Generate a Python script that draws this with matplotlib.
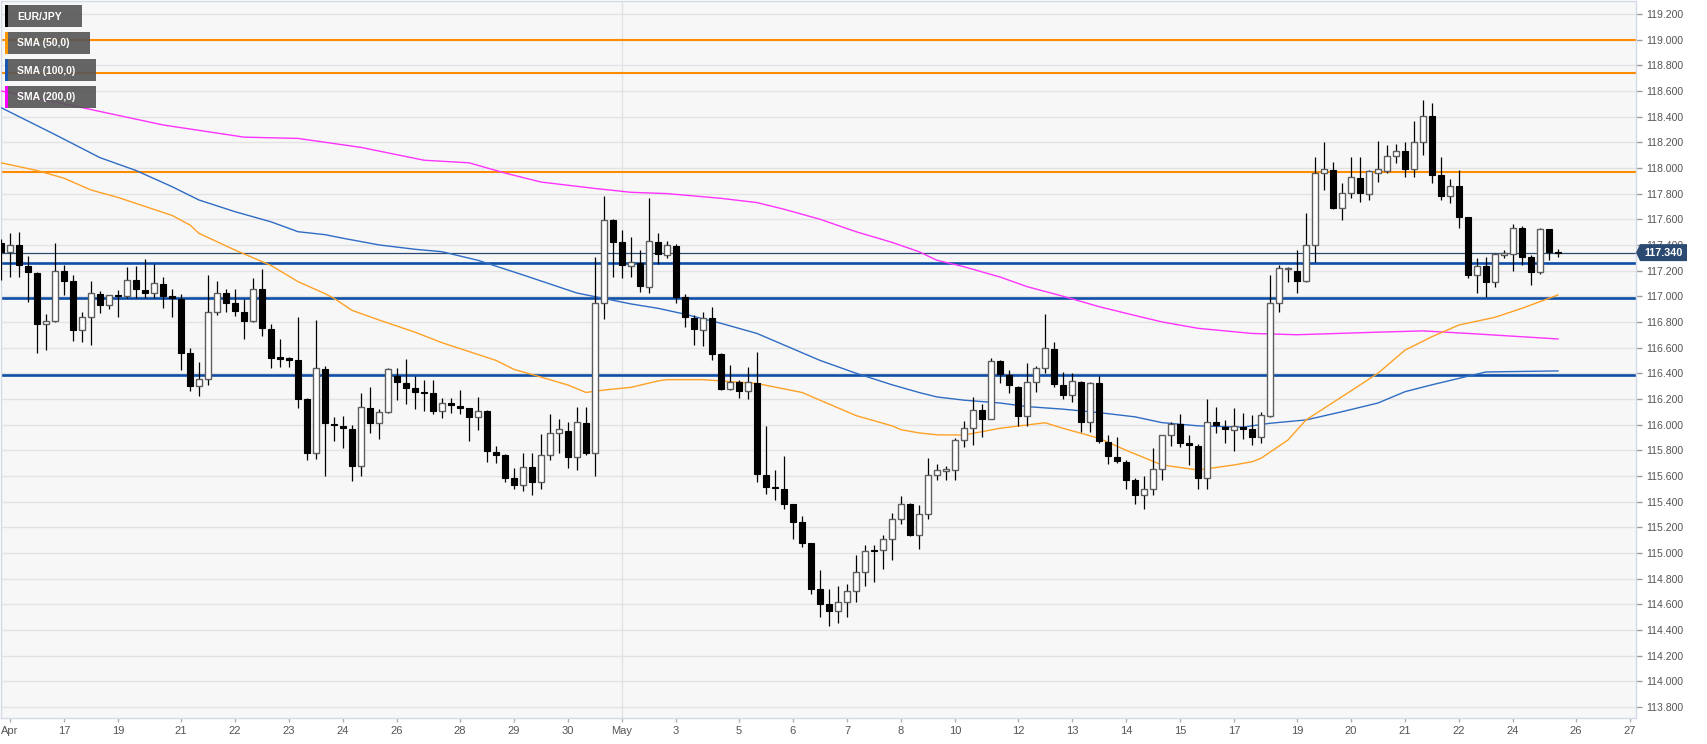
import matplotlib
matplotlib.use("Agg")
import matplotlib.pyplot as plt
from matplotlib.patches import Rectangle, Polygon
import numpy as np

# ---------------- data ----------------
opens = [117.415, 117.348, 117.40, 117.236, 117.184, 116.784, 116.81, 117.2, 117.12, 116.738,
         116.842, 117.02, 116.93, 117.01, 117.0, 117.13, 117.05, 117.025, 117.095, 117.0,
         116.976, 116.56, 116.30, 116.353, 116.88, 117.024, 116.946, 116.88, 116.81, 117.055,
         116.745, 116.525, 116.517, 116.504, 116.20, 115.776, 116.431, 116.005, 115.992, 115.963,
         115.678, 116.127, 116.01, 116.10, 116.379, 116.327, 116.283, 116.25, 116.244, 116.109,
         116.166, 116.145, 116.127, 116.062, 116.106, 115.784, 115.761, 115.58, 115.53, 115.67,
         115.55, 115.763, 115.938, 115.953, 115.745, 116.015, 115.776, 116.945, 117.595, 117.426,
         117.238, 117.257, 117.075, 117.426, 117.322, 117.394, 116.992, 116.833, 116.737, 116.833,
         116.548, 116.275, 116.335, 116.265, 116.322, 115.607, 115.51, 115.495, 115.378, 115.243,
         115.075, 114.72, 114.60, 114.55, 114.62, 114.70, 114.854, 115.023, 115.023, 115.106,
         115.264, 115.381, 115.14, 115.303, 115.607, 115.64, 115.647, 115.881, 115.971, 116.114,
         116.044, 116.499, 116.387, 116.296, 116.068, 116.335, 116.444, 116.59, 116.309, 116.23,
         116.335, 116.023, 116.322, 115.862, 115.75, 115.71, 115.57, 115.45, 115.50, 115.652,
         115.919, 116.005, 115.86, 115.836, 115.58, 116.023, 115.984, 115.958, 115.984, 115.964,
         115.906, 116.067, 116.945, 117.21, 117.2, 117.122, 117.4, 117.964, 117.984, 117.686,
         117.808, 117.925, 117.797, 117.964, 117.979, 118.096, 118.135, 117.99, 118.2, 118.405,
         117.943, 117.782, 117.862, 117.616, 117.166, 117.239, 117.114, 117.322, 117.33, 117.535,
         117.309, 117.187, 117.522, 117.343]
highs = [117.45, 117.49, 117.504, 117.314, 117.19, 116.86, 117.418, 117.245, 117.166, 116.88,
         117.115, 117.04, 117.01, 117.05, 117.225, 117.235, 117.29, 117.25, 117.15, 117.06,
         117.02, 116.595, 116.485, 117.166, 117.115, 117.06, 117.06, 116.98, 117.14, 117.21,
         116.786, 116.67, 116.53, 116.84, 116.21, 116.815, 116.457, 116.057, 116.07, 115.997,
         116.249, 116.296, 116.119, 116.44, 116.439, 116.509, 116.379, 116.348, 116.348, 116.205,
         116.205, 116.27, 116.13, 116.213, 116.11, 115.834, 115.77, 115.66, 115.78, 115.78,
         115.93, 116.083, 116.041, 116.023, 116.14, 116.135, 117.309, 117.781, 117.60, 117.517,
         117.465, 117.36, 117.763, 117.49, 117.43, 117.41, 117.018, 116.854, 116.88, 116.914,
         116.56, 116.465, 116.348, 116.447, 116.569, 115.99, 115.647, 115.756, 115.38, 115.288,
         115.08, 114.87, 114.72, 114.74, 114.76, 114.98, 115.062, 115.062, 115.14, 115.309,
         115.44, 115.385, 115.374, 115.737, 115.693, 115.678, 115.894, 116.031, 116.213, 116.161,
         116.517, 116.5, 116.426, 116.30, 116.478, 116.457, 116.86, 116.642, 116.413, 116.40,
         116.34, 116.33, 116.38, 115.919, 115.906, 115.72, 115.58, 115.60, 115.816, 115.92,
         116.023, 116.083, 115.92, 115.85, 116.197, 116.135, 116.036, 116.127, 116.088, 116.075,
         116.101, 117.166, 117.244, 117.231, 117.361, 117.652, 118.088, 118.2, 118.049, 117.881,
         118.088, 118.083, 117.98, 118.21, 118.179, 118.187, 118.205, 118.369, 118.53, 118.509,
         118.083, 117.914, 117.984, 117.616, 117.296, 117.309, 117.335, 117.361, 117.564, 117.548,
         117.322, 117.53, 117.527, 117.366]
lows = [117.127, 117.15, 117.147, 116.958, 116.556, 116.58, 116.80, 117.01, 116.655, 116.64,
        116.62, 116.87, 116.90, 116.84, 116.99, 116.985, 116.985, 116.985, 116.905, 116.84,
        116.425, 116.265, 116.225, 116.31, 116.855, 116.88, 116.847, 116.665, 116.80, 116.69,
        116.44, 116.45, 116.45, 116.13, 115.72, 115.735, 115.60, 115.873, 115.816, 115.56,
        115.60, 115.938, 115.886, 116.088, 116.192, 116.158, 116.119, 116.109, 116.083, 116.049,
        116.088, 116.083, 115.873, 115.958, 115.711, 115.698, 115.55, 115.50, 115.48, 115.45,
        115.50, 115.725, 115.776, 115.66, 115.647, 115.763, 115.60, 116.821, 117.148, 117.14,
        117.147, 117.036, 117.023, 117.25, 117.296, 116.945, 116.763, 116.62, 116.614, 116.504,
        116.27, 116.27, 116.205, 116.197, 115.555, 115.46, 115.414, 115.34, 115.106, 115.044,
        114.68, 114.50, 114.43, 114.45, 114.50, 114.62, 114.742, 114.776, 114.872, 114.946,
        115.225, 115.135, 115.03, 115.262, 115.568, 115.57, 115.57, 115.823, 115.842, 115.901,
        116.04, 116.322, 116.244, 115.99, 115.99, 116.257, 116.40, 116.296, 116.197, 116.179,
        115.94, 115.945, 115.86, 115.69, 115.70, 115.50, 115.38, 115.34, 115.45, 115.57,
        115.829, 115.823, 115.686, 115.50, 115.50, 115.932, 115.855, 115.795, 115.89, 115.842,
        115.86, 116.057, 116.88, 117.114, 117.029, 117.114, 117.27, 117.829, 117.678, 117.595,
        117.764, 117.738, 117.75, 117.894, 117.964, 118.036, 117.927, 117.927, 118.1, 117.88,
        117.75, 117.73, 117.53, 117.14, 117.029, 116.997, 117.075, 117.296, 117.2, 117.244,
        117.088, 117.174, 117.283, 117.309]
closes = [117.348, 117.400, 117.244, 117.192, 116.784, 116.81, 117.20, 117.12, 116.738, 116.842,
          117.024, 116.93, 117.006, 117.0, 117.13, 117.055, 117.025, 117.10, 117.0, 116.99,
          116.56, 116.30, 116.353, 116.88, 117.024, 116.946, 116.888, 116.81, 117.055, 116.75,
          116.517, 116.51, 116.504, 116.20, 115.776, 116.439, 116.010, 116.0, 115.971, 115.678,
          116.135, 116.010, 116.10, 116.431, 116.335, 116.288, 116.251, 116.248, 116.109, 116.171,
          116.150, 116.127, 116.062, 116.109, 115.790, 115.761, 115.58, 115.53, 115.67, 115.55,
          115.763, 115.938, 115.963, 115.745, 116.018, 115.776, 116.945, 117.595, 117.426, 117.244,
          117.27, 117.08, 117.431, 117.327, 117.397, 116.992, 116.841, 116.742, 116.833, 116.55,
          116.275, 116.335, 116.265, 116.33, 115.615, 115.511, 115.503, 115.38, 115.243, 115.075,
          114.72, 114.60, 114.55, 114.62, 114.70, 114.854, 115.018, 115.015, 115.106, 115.264,
          115.381, 115.14, 115.303, 115.607, 115.646, 115.656, 115.881, 115.971, 116.114, 116.044,
          116.496, 116.395, 116.309, 116.068, 116.335, 116.439, 116.595, 116.317, 116.23, 116.34,
          116.023, 116.327, 115.868, 115.756, 115.719, 115.57, 115.45, 115.50, 115.652, 115.919,
          116.005, 115.86, 115.842, 115.58, 116.023, 115.997, 115.964, 115.99, 115.964, 115.906,
          116.075, 116.945, 117.218, 117.218, 117.122, 117.4, 117.964, 117.99, 117.686, 117.808,
          117.927, 117.803, 117.979, 117.99, 118.096, 118.135, 117.99, 118.2, 118.405, 117.945,
          117.782, 117.862, 117.616, 117.166, 117.239, 117.114, 117.33, 117.34, 117.535, 117.309,
          117.187, 117.522, 117.343, 117.34]

sma50_idx = [0, 4, 7, 10, 13, 16, 19, 21, 22, 26, 30, 33, 36, 37, 39, 42, 46, 49, 55, 57,
             60, 63, 65, 67, 70, 73, 74, 78, 84, 89, 91, 95, 99, 100, 102, 104, 107, 111, 116,
             118, 122, 125, 129, 133, 137, 139, 140, 143, 145, 149, 153, 156, 159, 162, 166,
             169, 173]
sma50_val = [118.04, 117.98, 117.92, 117.828, 117.77, 117.70, 117.63, 117.555, 117.49, 117.36,
             117.24, 117.114, 117.02, 116.984, 116.89, 116.815, 116.72, 116.638, 116.50, 116.43,
             116.37, 116.308, 116.25, 116.269, 116.29, 116.34, 116.35, 116.35, 116.32, 116.25,
             116.19, 116.07, 115.99, 115.96, 115.935, 115.92, 115.918, 115.971, 116.014, 115.971,
             115.893, 115.80, 115.685, 115.646, 115.685, 115.71, 115.737, 115.88, 116.036,
             116.217, 116.40, 116.58, 116.685, 116.776, 116.836, 116.906, 117.01]
sma100_idx = [0, 6, 11, 15, 19, 22, 26, 30, 33, 36, 38, 42, 46, 49, 53, 58, 64, 70, 73, 76,
              80, 84, 87, 91, 95, 99, 102, 104, 107, 111, 114, 118, 122, 126, 129, 133, 138,
              141, 145, 149, 153, 156, 159, 162, 165, 173]
sma100_val = [118.47, 118.26, 118.08, 117.98, 117.854, 117.75, 117.659, 117.58, 117.503,
              117.48, 117.452, 117.40, 117.366, 117.347, 117.28, 117.166, 117.025, 116.94,
              116.906, 116.86, 116.789, 116.71, 116.62, 116.50, 116.40, 116.31, 116.25, 116.215,
              116.19, 116.168, 116.14, 116.12, 116.093, 116.06, 116.015, 115.99, 115.98, 116.01,
              116.036, 116.10, 116.168, 116.256, 116.31, 116.36, 116.41, 116.418]
sma200_idx = [0, 9, 18, 27, 33, 40, 47, 52, 56, 60, 66, 70, 74, 80, 84, 87, 91, 95, 99, 102,
              104, 107, 111, 114, 118, 122, 126, 129, 133, 139, 144, 153, 158, 164, 173]
sma200_val = [118.60, 118.47, 118.335, 118.24, 118.23, 118.16, 118.06, 118.04, 117.96, 117.89,
              117.84, 117.81, 117.80, 117.763, 117.73, 117.678, 117.60, 117.503, 117.42, 117.347,
              117.28, 117.23, 117.15, 117.075, 117.0, 116.919, 116.85, 116.80, 116.75, 116.71,
              116.70, 116.72, 116.73, 116.706, 116.667]

resistance = [119.0, 118.738, 117.971]
support = [117.262, 116.984, 116.389]
last_price = 117.34

tick_idx = [1, 7, 13, 20, 26, 32, 38, 44, 51, 57, 63, 69, 75, 82, 88, 94, 100, 106, 113,
            119, 125, 131, 137, 144, 150, 156, 162, 168, 175, 181]
tick_labels = ["Apr", "17", "19", "21", "22", "23", "24", "26", "28", "29", "30", "May", "3",
               "5", "6", "7", "8", "10", "12", "13", "14", "15", "17", "19", "20", "21", "22",
               "24", "26", "27"]
may_idx = 69
legend_names = ["EUR/JPY", "SMA (50,0)", "SMA (100,0)", "SMA (200,0)"]

# ---------------- figure ----------------
W, H = 1707, 744
fig = plt.figure(figsize=(W / 100, H / 100), dpi=100, facecolor="white")
ax_l, ax_r, ax_t, ax_b = 1, 1636, 1, 718
ax = fig.add_axes([ax_l / W, 1 - ax_b / H, (ax_r - ax_l) / W, (ax_b - ax_t) / H])
ax.set_facecolor("#f7f7f7")
ax.set_xlim(0, (ax_r - ax_l) / 9.0)
ax.set_ylim(113.713, 119.301)

yt = np.round(np.arange(113.8, 119.21, 0.2), 1)
ax.set_yticks(yt)
ax.set_yticklabels([f"{v:.3f}" for v in yt])
ax.yaxis.tick_right()
ax.tick_params(axis="y", which="both", direction="out", length=4, width=1, color="#9a9a9a",
               labelsize=7.6, labelcolor="#555555", pad=3, left=False, right=True)
for v in yt:
    ax.axhline(v, color="#e3e3e3", lw=1, zorder=0)
ax.axvline(may_idx, color="#e3e3e3", lw=1, zorder=0)

ax.set_xticks(tick_idx)
ax.set_xticklabels(tick_labels)
ax.tick_params(axis="x", direction="out", length=3, width=1, color="#b0b0b0",
               labelsize=8, labelcolor="#555555", pad=3)
for lbl in ax.get_xticklabels():
    lbl.set_family(["Liberation Sans Narrow", "Liberation Sans", "DejaVu Sans"])
for lbl in ax.get_yticklabels():
    lbl.set_family(["Liberation Sans", "DejaVu Sans"])

for s in ax.spines.values():
    s.set_color("#d3d9e6")
    s.set_linewidth(1)

# horizontal levels
for r in resistance:
    ax.axhline(r, color="#ff8c00", lw=1.5, zorder=2)
for s in support:
    ax.axhline(s, color="#0d4ea6", lw=1.9, zorder=2)
ax.axhline(last_price, color="#2b4a72", lw=0.9, zorder=2)

# SMAs
ax.plot(sma200_idx, sma200_val, color="#ff33ff", lw=1.0, zorder=3, solid_joinstyle="round")
ax.plot(sma100_idx, sma100_val, color="#2f6cc4", lw=1.0, zorder=3, solid_joinstyle="round")
ax.plot(sma50_idx, sma50_val, color="#ffa126", lw=1.0, zorder=3, solid_joinstyle="round")

# candles
idx = np.arange(len(opens))
o = np.array(opens); h = np.array(highs); l = np.array(lows); c = np.array(closes)
up = c >= o
ax.vlines(idx, l, h, color="black", lw=0.9, zorder=4)
bottoms = np.minimum(o, c)
heights = np.maximum(np.abs(c - o), 0.008)
ax.bar(idx[up], heights[up], bottom=bottoms[up], width=0.62, facecolor="white",
       edgecolor="#5e5e5e", linewidth=1.0, zorder=5)
ax.bar(idx[~up], heights[~up], bottom=bottoms[~up], width=0.62, facecolor="black",
       edgecolor="black", linewidth=0.8, zorder=5)

# price label at the right
def fx(px):
    return px / W
def fy(py):
    return 1 - py / H

py = ax.transData.transform((0, last_price))[1]
py = H - py
fig.add_artist(Polygon([(fx(1636), fy(py)), (fx(1640), fy(py - 8.5)), (fx(1687), fy(py - 8.5)),
                        (fx(1687), fy(py + 8.5)), (fx(1640), fy(py + 8.5))],
                       closed=True, transform=fig.transFigure, facecolor="#2b4a72",
                       edgecolor="none", zorder=10))
fig.text(fx(1663.5), fy(py), f"{last_price:.3f}", color="white", fontsize=7.8,
         fontweight="bold", ha="center", va="center", family=["Liberation Sans", "DejaVu Sans"],
         zorder=11)

# legend boxes
strip_colors = ["#000000", "#ff9800", "#1a56b0", "#ff00ff"]
box_right = [82, 90, 96, 96]
box_tops = [5, 32, 59, 86]
for name, sc, br, bt in zip(legend_names, strip_colors, box_right, box_tops):
    bh = 22
    fig.add_artist(Rectangle((fx(8), fy(bt + bh)), fx(br) - fx(8), bh / H,
                             transform=fig.transFigure, facecolor="#555555", alpha=0.9,
                             edgecolor="none", zorder=12))
    fig.add_artist(Rectangle((fx(5), fy(bt + bh)), 3 / W, bh / H,
                             transform=fig.transFigure, facecolor=sc, edgecolor="none",
                             zorder=13))
    fig.text(fx(17), fy(bt + bh / 2 + 0.5), name, color="white", fontsize=7.5,
             fontweight="bold", ha="left", va="center",
             family=["Liberation Sans", "DejaVu Sans"], zorder=14)

fig.savefig("out.png", dpi=100, facecolor="white")
